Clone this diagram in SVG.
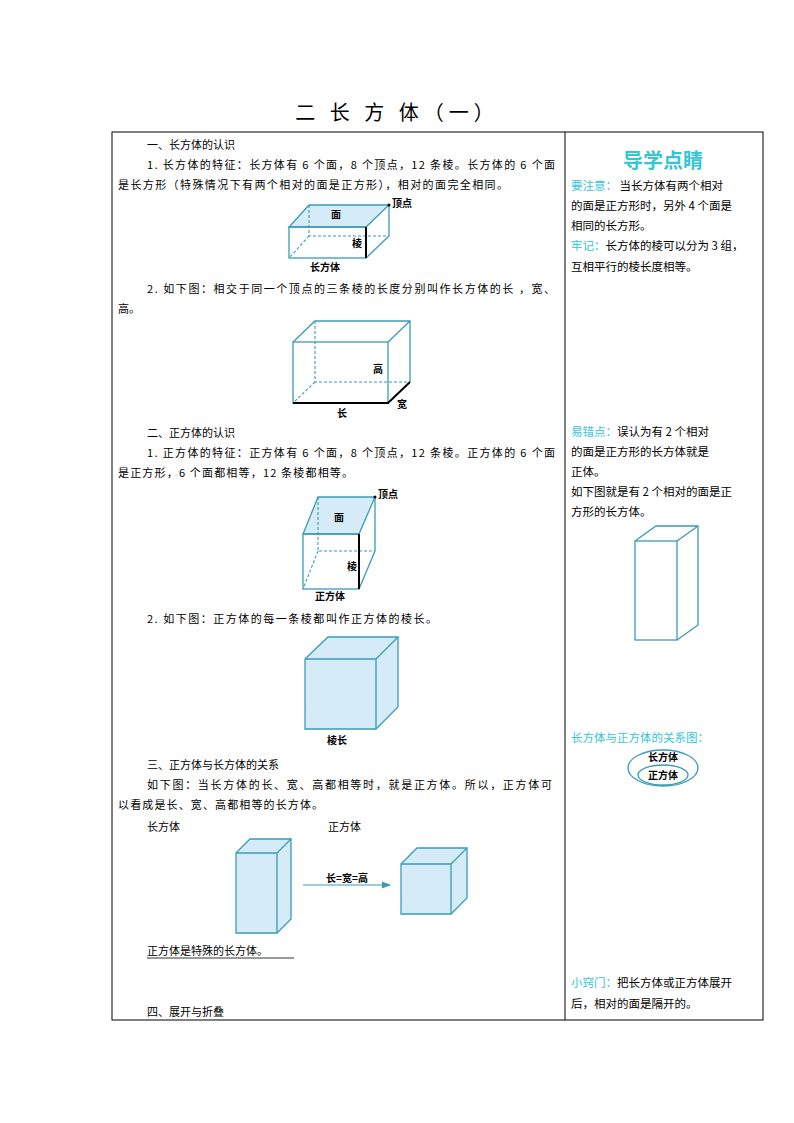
<svg xmlns="http://www.w3.org/2000/svg" width="794" height="1123" viewBox="0 0 794 1123">
<defs>
<style>
text{font-family:"Noto Sans CJK SC","Liberation Sans",sans-serif;font-size:11px;fill:#000}
.t{font-size:11.5px}
.c{fill:#33c6d6}
.lb{font-size:10px;font-weight:bold;font-family:"Noto Sans CJK SC",serif}
.e{stroke:#3a9cb5;stroke-width:1.3;fill:none}
.d{stroke:#3a9cb5;stroke-width:1.1;fill:none;stroke-dasharray:3,2}
.f{fill:#d5ebf8;stroke:#3a9cb5;stroke-width:1.3}
.k{stroke:#000;stroke-width:2;fill:none}
</style>
<marker id="ar" markerWidth="8" markerHeight="6" refX="7" refY="3" orient="auto"><path d="M0,0 L8,3 L0,6 Z" fill="#3a9cb5"/></marker>
</defs>
<rect width="794" height="1123" fill="#fff"/>
<text x="397" y="120" text-anchor="middle" style="font-size:20px" letter-spacing="5">二  长 方 体（一）</text>
<rect x="112" y="132" width="651" height="888" fill="none" stroke="#000" stroke-width="1"/>
<line x1="565" y1="132" x2="565" y2="1020" stroke="#000"/>

<g id="main-text">
<text x="147" y="149">一、长方体的认识</text>
<text x="147" y="169" textLength="408" lengthAdjust="spacing">1. 长方体的特征：长方体有 6 个面，8 个顶点，12 条棱。长方体的 6 个面</text>
<text x="118" y="189" textLength="390" lengthAdjust="spacing">是长方形（特殊情况下有两个相对的面是正方形），相对的面完全相同。</text>
<text x="147" y="293" textLength="408" lengthAdjust="spacing">2. 如下图：相交于同一个顶点的三条棱的长度分别叫作长方体的长 ，宽、</text>
<text x="118" y="313">高。</text>
<text x="147" y="437">二、正方体的认识</text>
<text x="147" y="457" textLength="408" lengthAdjust="spacing">1. 正方体的特征：正方体有 6 个面，8 个顶点，12 条棱。正方体的 6 个面</text>
<text x="118" y="477" textLength="235" lengthAdjust="spacing">是正方形，6 个面都相等，12 条棱都相等。</text>
<text x="147" y="623" textLength="290" lengthAdjust="spacing">2. 如下图：正方体的每一条棱都叫作正方体的棱长。</text>
<text x="147" y="769">三、正方体与长方体的关系</text>
<text x="147" y="789" textLength="405" lengthAdjust="spacing">如下图：当长方体的长、宽、高都相等时，就是正方体。所以，正方体可</text>
<text x="118" y="809" textLength="205" lengthAdjust="spacing">以看成是长、宽、高都相等的长方体。</text>
<text x="147" y="831">长方体</text>
<text x="328" y="831">正方体</text>
<text x="147" y="955">正方体是特殊的长方体。</text>
<line x1="147" y1="958" x2="294" y2="958" stroke="#000" stroke-width="0.8"/>
<text x="147" y="1016">四、展开与折叠</text>
</g>

<g id="cuboid1">
<polygon class="f" points="289,227 366,227 389,205 309,205"/>
<rect class="e" x="289" y="227" width="77" height="31"/>
<path class="e" d="M389,205 V236 L366,258"/>
<path class="d" d="M309,205 V236 H389 M309,236 L289,258"/>
<line class="k" x1="366" y1="227" x2="366" y2="258"/>
<circle cx="389" cy="205" r="1.5"/>
<text class="lb" x="331" y="218">面</text>
<text class="lb" x="352" y="247">棱</text>
<text class="lb" x="392" y="207">顶点</text>
<text class="lb" x="310" y="271">长方体</text>
</g>

<g id="cuboid2">
<rect class="e" x="293" y="342" width="95" height="61"/>
<path class="e" d="M293,342 L315,321 H410 V382 M388,342 L410,321"/>
<path class="d" d="M315,321 V382 H410 M315,382 L293,403"/>
<path class="k" d="M293,403 H388 L410,382"/>
<text class="lb" x="373" y="373">高</text>
<text class="lb" x="337" y="417">长</text>
<text class="lb" x="397" y="408">宽</text>
</g>

<g id="cube1">
<polygon class="f" points="303,534 359,534 375,497 318,497"/>
<rect class="e" x="303" y="534" width="56" height="55"/>
<path class="e" d="M375,497 V551 L359,589"/>
<path class="d" d="M318,497 V551 H375 M318,551 L303,589"/>
<line class="k" x1="359" y1="534" x2="359" y2="589"/>
<circle cx="375" cy="497" r="1.5"/>
<text class="lb" x="334" y="521">面</text>
<text class="lb" x="347" y="570">棱</text>
<text class="lb" x="378" y="498">顶点</text>
<text class="lb" x="315" y="600">正方体</text>
</g>

<g id="cube2">
<polygon class="f" points="305,659 328,637 398,637 398,707 376,729 305,729"/>
<path class="e" d="M305,659 H376 V729 M376,659 L398,637"/>
<text class="lb" x="327" y="744">棱长</text>
</g>

<g id="tallbox">
<polygon class="f" points="236,853 250,839 291,839 291,919 277,933 236,933"/>
<path class="e" d="M236,853 H277 V933 M277,853 L291,839"/>
</g>
<g id="smallcube">
<polygon class="f" points="401,864 417,848 467,848 467,898 451,914 401,914"/>
<path class="e" d="M401,864 H451 V914 M451,864 L467,848"/>
</g>
<g id="connectors">
<line x1="303" y1="885" x2="390" y2="885" stroke="#3a9cb5" stroke-width="1.2" marker-end="url(#ar)"/>
<text class="lb" x="347" y="882" text-anchor="middle">长=宽=高</text>
</g>

<g id="side">
<text x="663" y="168" text-anchor="middle" class="c" style="font-size:20px;font-weight:bold">导学点睛</text>
<text class="t" x="571" y="190"><tspan class="c">要注意：</tspan> 当长方体有两个相对</text>
<text class="t" x="571" y="210">的面是正方形时，另外 4 个面是</text>
<text class="t" x="571" y="230">相同的长方形。</text>
<text class="t" x="571" y="250"><tspan class="c">牢记：</tspan>长方体的棱可以分为 3 组，</text>
<text class="t" x="571" y="271">互相平行的棱长度相等。</text>
<text class="t" x="571" y="436"><tspan class="c">易错点：</tspan>误认为有 2 个相对</text>
<text class="t" x="571" y="456">的面是正方形的长方体就是</text>
<text class="t" x="571" y="476">正体。</text>
<text class="t" x="571" y="496">如下图就是有 2 个相对的面是正</text>
<text class="t" x="571" y="516">方形的长方体。</text>
<text class="t c" x="571" y="742">长方体与正方体的关系图：</text>
<text class="t" x="571" y="987"><tspan class="c">小窍门：</tspan>把长方体或正方体展开</text>
<text class="t" x="571" y="1008">后，相对的面是隔开的。</text>
</g>
<g id="sidebox">
<rect class="e" x="635" y="541" width="42" height="99"/>
<path class="e" d="M635,541 L656,526 H698 V625 L677,640 M677,541 L698,526"/>
</g>
<g id="venn">
<ellipse cx="663" cy="768" rx="35" ry="18" class="e"/>
<ellipse cx="663" cy="775" rx="25" ry="10" class="e"/>
<text class="lb" x="663" y="761" text-anchor="middle">长方体</text>
<text class="lb" x="663" y="779" text-anchor="middle">正方体</text>
</g>
</svg>
